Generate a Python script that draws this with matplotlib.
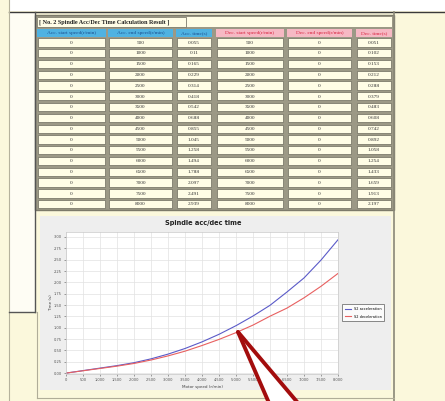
import matplotlib
matplotlib.use("Agg")
import matplotlib.pyplot as plt
from matplotlib.patches import Rectangle, Polygon
from matplotlib.ticker import MultipleLocator, FuncFormatter

# table / chart data
speeds = [500, 1000, 1500, 2000, 2500, 3000, 3500, 4000,
          4500, 5000, 5500, 6000, 6500, 7000, 7500, 8000]
acc_time = [0.055, 0.11, 0.165, 0.229, 0.314, 0.418, 0.542, 0.688,
            0.855, 1.045, 1.258, 1.494, 1.788, 2.097, 2.491, 2.939]
dec_time = [0.051, 0.102, 0.153, 0.212, 0.288, 0.379, 0.483, 0.608,
            0.742, 0.892, 1.058, 1.254, 1.433, 1.659, 1.913, 2.197]
headers = ["Acc. start speed(r/min)", "Acc. end speed(r/min)", "Acc. time(s)",
           "Dec. start speed(r/min)", "Dec. end speed(r/min)", "Dec. time(s)"]
title_text = "[ No. 2 Spindle Acc/Dec Time Calculation Result ]"
chart_title = "Spindle acc/dec time"
series_names = ["S2 acceleration", "S2 deceleration"]

W, H = 445, 401
cream = "#fbf8dc"
cell_bg = "#fffde6"
grid_gray = "#9c9986"

fig = plt.figure(figsize=(W / 100, H / 100), dpi=100)
fig.patch.set_facecolor(cream)

# background layer in pixel coordinates
bg = fig.add_axes([0, 0, 1, 1], zorder=0)
bg.set_xlim(0, W)
bg.set_ylim(H, 0)
bg.axis("off")

# top white strip and left panel
bg.add_patch(Rectangle((9, 0), W - 9, 11, facecolor="white", edgecolor="none"))
bg.plot([9, W], [11.5, 11.5], color="#3a3a3a", lw=1.0)
bg.plot([9, 9], [0, H], color="#b5b29c", lw=0.8)
bg.add_patch(Rectangle((9, 12), 26, 300, facecolor="#fefdf4", edgecolor="none"))
bg.plot([35, 35], [12, 312], color="#555555", lw=1.0)
bg.plot([9, 35], [312, 312], color="#555555", lw=1.0)

# dialog frame
bg.plot([393.5, 393.5], [12, H], color="#8a8878", lw=1.2)
bg.plot([37, 37], [312, 398], color="#b0ad98", lw=0.8)
bg.plot([37, 393.5], [398, 398], color="#b0ad98", lw=0.8)

# table
col_x = [(37, 106), (108, 173), (176, 212), (216, 284), (287, 352), (356, 392)]
bg.add_patch(Rectangle((35, 15), 359, 195, facecolor=grid_gray, edgecolor="#7c7a6a", lw=1.0))
bg.add_patch(Rectangle((37, 17), 355, 10, facecolor=cell_bg, edgecolor="none"))
bg.add_patch(Rectangle((37, 17), 149, 10, facecolor=cell_bg, edgecolor="#7c7a6a", lw=0.6))
bg.text(39, 22.2, title_text, fontsize=4.4, family="Liberation Serif",
        fontweight="bold", va="center", ha="left", color="#222222")

for i, (x0, x1) in enumerate(col_x):
    face = "#4fb2e2" if i < 3 else "#f6b9c4"
    tc = "#1b4f8f" if i < 3 else "#d8203c"
    bg.add_patch(Rectangle((x0, 28.5), x1 - x0, 8, facecolor=face, edgecolor="none"))
    bg.text((x0 + x1) / 2, 32.6, headers[i], fontsize=3.9, family="Liberation Serif",
            ha="center", va="center", color=tc)

pitch = 10.78
for r, sp in enumerate(speeds):
    y0 = 38.3 + r * pitch
    vals = ["0", str(sp), f"{acc_time[r]:g}", str(sp), "0", f"{dec_time[r]:.3f}"]
    for i, (x0, x1) in enumerate(col_x):
        bg.add_patch(Rectangle((x0 + 1, y0), x1 - x0 - 2, 8.3, facecolor=cell_bg,
                               edgecolor="#6e6c5e", lw=0.5))
        bg.text((x0 + x1) / 2, y0 + 4.3, vals[i], fontsize=3.8, family="Liberation Serif",
                ha="center", va="center", color="#333333")

# chart panel
bg.add_patch(Rectangle((40, 216), 351, 174, facecolor="#eeeeee", edgecolor="none"))
bg.text(203, 223, chart_title, fontsize=4.8, fontweight="bold", ha="center",
        va="center", color="#222222")
bg.text(51, 303, "Time (s)", fontsize=3, rotation=90, ha="center", va="center",
        color="#444444")
bg.text(202, 387, "Motor speed (r/min)", fontsize=3, ha="center", va="center",
        color="#444444")

# chart
ax = fig.add_axes([66 / W, (H - 374) / H, 272 / W, 142 / H], zorder=2)
ax.set_facecolor("white")
xs = [0] + speeds
ax.plot(xs, [0] + acc_time, color="#5a5ac8", lw=0.8, label=series_names[0])
ax.plot(xs, [0] + dec_time, color="#e86060", lw=0.8, label=series_names[1])
ax.set_xlim(0, 8000)
ax.set_ylim(-0.02, 3.11)
ax.xaxis.set_major_locator(MultipleLocator(500))
ax.yaxis.set_major_locator(MultipleLocator(0.25))
ax.xaxis.set_major_formatter(FuncFormatter(lambda v, p: f"{int(v):,}"))
ax.yaxis.set_major_formatter(FuncFormatter(lambda v, p: f"{v:.2f}"))
ax.tick_params(labelsize=2.6, length=1.5, width=0.4, pad=1.5, colors="#555555")
ax.grid(True, color="#e2e2e2", lw=0.5)
for s in ax.spines.values():
    s.set_color("#c8c8c8")
    s.set_linewidth(0.5)
leg = ax.legend(loc="center left", bbox_to_anchor=(1.01, 0.43), fontsize=2.5,
                frameon=True, fancybox=False, handlelength=1.6, borderpad=0.8,
                labelspacing=1.0)
leg.get_frame().set_edgecolor("#555555")
leg.get_frame().set_linewidth(0.6)

# red pointer on top
top = fig.add_axes([0, 0, 1, 1], zorder=5)
top.set_xlim(0, W)
top.set_ylim(H, 0)
top.axis("off")
top.patch.set_alpha(0)
top.add_patch(Polygon([(238, 332), (269, 403), (298, 403)], closed=True,
                      facecolor="white", edgecolor="none"))
top.plot([238, 269], [332, 403], color="#a30d0d", lw=2.8, solid_capstyle="round")
top.plot([238, 298], [332, 403], color="#a30d0d", lw=2.8, solid_capstyle="round")

fig.savefig("out.png", dpi=100, facecolor=fig.get_facecolor())
